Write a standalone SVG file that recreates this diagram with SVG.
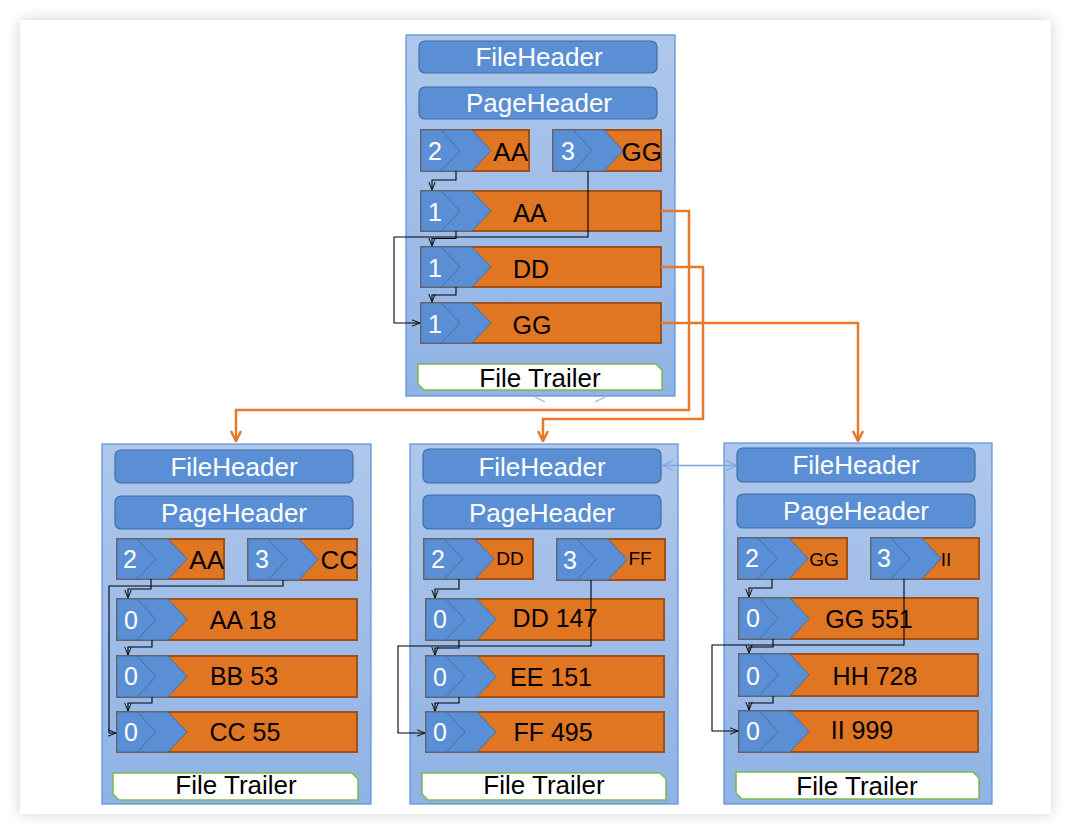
<svg xmlns="http://www.w3.org/2000/svg" width="1071" height="834" viewBox="0 0 1071 834">
<style>
text{font-family:"Liberation Sans",Arial,Helvetica,sans-serif}
.blk{fill:url(#bg);stroke:#5b8fd8;stroke-width:1.2}
.hdr{fill:#5b8fd5;stroke:#3f6ea6;stroke-width:1.2}
.hdrt{fill:#fff;font-size:26px;text-anchor:middle}
.ob{fill:#e07522;stroke:#9e501c;stroke-width:2}
.chev{fill:#5b8fd5;stroke:#41709f;stroke-width:1}
.chl{fill:none;stroke:#41709f;stroke-width:1}
.num{fill:#fff;font-size:25px;text-anchor:middle}
.lbl{fill:#000;font-size:25px;text-anchor:middle}
.lble{fill:#000;font-size:26px;text-anchor:end}
.slbl{fill:#000;font-size:19px;text-anchor:middle}
.ft{fill:#fff;stroke:#7db84e;stroke-width:1.5}
.ftt{fill:#000;font-size:26px;text-anchor:middle}
.c{fill:none;stroke:#000;stroke-width:1.1}
.o{fill:none;stroke:#e8782a;stroke-width:2.5}
</style>
<defs>
<linearGradient id="bg" x1="0" y1="0" x2="0" y2="1">
<stop offset="0" stop-color="#afc7eb"/>
<stop offset="1" stop-color="#8fb3e5"/>
</linearGradient>
<filter id="sh" x="-5%" y="-5%" width="110%" height="110%">
<feDropShadow dx="0" dy="0" stdDeviation="7" flood-color="#000" flood-opacity="0.18"/>
</filter>
<marker id="ab" viewBox="0 0 10 10" refX="10" refY="5" markerWidth="8" markerHeight="8" markerUnits="userSpaceOnUse" orient="auto">
<path d="M0,1 L10,5 L0,9" fill="none" stroke="#000" stroke-width="1.2"/>
</marker>
<marker id="ao" viewBox="0 0 12 12" refX="11" refY="6" markerWidth="12" markerHeight="12" markerUnits="userSpaceOnUse" orient="auto">
<path d="M1,1 L11,6 L1,11" fill="none" stroke="#e8782a" stroke-width="2.5"/>
</marker>
<marker id="abl" viewBox="0 0 12 12" refX="11" refY="6" markerWidth="12" markerHeight="12" markerUnits="userSpaceOnUse" orient="auto-start-reverse">
<path d="M1,1 L11,6 L1,11" fill="none" stroke="#7ea6e0" stroke-width="1.3"/>
</marker>
</defs>
<rect x="0" y="0" width="1071" height="834" fill="#fff"/>
<rect x="20" y="20" width="1031" height="794" fill="#fff" filter="url(#sh)"/>

<g id="top-file">
<rect class="blk" x="406" y="35" width="269" height="361"/>
<g id="t-fileheader"><rect class="hdr" x="419" y="41" width="238" height="32" rx="6"/><text class="hdrt" x="539" y="66">FileHeader</text></g>
<g id="t-pageheader"><rect class="hdr" x="419" y="87" width="238" height="32" rx="6"/><text class="hdrt" x="539" y="112">PageHeader</text></g>
<g id="t-idx1"><rect class="ob" x="421" y="130" width="108" height="41"/><polygon class="chev" points="421,130 472,130 491,150.5 472,171 421,171"/><polyline class="chl" points="441,130 460,150.5 441,171"/><text class="num" x="435" y="160">2</text><text class="lble" x="528" y="161">AA</text></g>
<g id="t-idx2"><rect class="ob" x="553" y="130" width="108" height="41"/><polygon class="chev" points="553,130 604,130 623,150.5 604,171 553,171"/><polyline class="chl" points="573,130 592,150.5 573,171"/><text class="num" x="568" y="160">3</text><text class="lble" x="662" y="161">GG</text></g>
<g id="t-rec-aa"><rect class="ob" x="421" y="191" width="240" height="40"/><polygon class="chev" points="421,191 472,191 491,211 472,231 421,231"/><polyline class="chl" points="441,191 460,211 441,231"/><text class="num" x="435" y="221">1</text><text class="lbl" x="530" y="222">AA</text></g>
<g id="t-rec-dd"><rect class="ob" x="421" y="247" width="240" height="40"/><polygon class="chev" points="421,247 472,247 491,267 472,287 421,287"/><polyline class="chl" points="441,247 460,267 441,287"/><text class="num" x="435" y="277">1</text><text class="lbl" x="531" y="278">DD</text></g>
<g id="t-rec-gg"><rect class="ob" x="421" y="303" width="240" height="40"/><polygon class="chev" points="421,303 472,303 491,323 472,343 421,343"/><polyline class="chl" points="441,303 460,323 441,343"/><text class="num" x="435" y="333">1</text><text class="lbl" x="532" y="334">GG</text></g>
<g id="t-trailer"><path class="ft" d="M418,364 H656 L662,370 V390 H424 L418,384 Z"/><text class="ftt" x="540" y="387">File Trailer</text></g>
</g>

<g id="left-file">
<rect class="blk" x="102" y="444" width="269" height="360"/>
<g id="l-fileheader"><rect class="hdr" x="115" y="450" width="238" height="33" rx="6"/><text class="hdrt" x="234" y="476">FileHeader</text></g>
<g id="l-pageheader"><rect class="hdr" x="115" y="496" width="238" height="33" rx="6"/><text class="hdrt" x="234" y="522">PageHeader</text></g>
<g id="l-idx1"><rect class="ob" x="117" y="539" width="107" height="40"/><polygon class="chev" points="117,539 168,539 187,559 168,579 117,579"/><polyline class="chl" points="137,539 156,559 137,579"/><text class="num" x="130" y="568">2</text><text class="lble" x="224" y="569">AA</text></g>
<g id="l-idx2"><rect class="ob" x="248" y="539" width="109" height="41"/><polygon class="chev" points="248,539 299,539 318,559.5 299,580 248,580"/><polyline class="chl" points="268,539 287,559.5 268,580"/><text class="num" x="262" y="568">3</text><text class="lble" x="358" y="569">CC</text></g>
<g id="l-rec-aa"><rect class="ob" x="117" y="599" width="240" height="41"/><polygon class="chev" points="117,599 168,599 187,619.5 168,640 117,640"/><polyline class="chl" points="137,599 156,619.5 137,640"/><text class="num" x="131" y="629">0</text><text class="lbl" x="243" y="629">AA 18</text></g>
<g id="l-rec-bb"><rect class="ob" x="117" y="656" width="240" height="41"/><polygon class="chev" points="117,656 168,656 187,676.5 168,697 117,697"/><polyline class="chl" points="137,656 156,676.5 137,697"/><text class="num" x="131" y="685">0</text><text class="lbl" x="244" y="685">BB 53</text></g>
<g id="l-rec-cc"><rect class="ob" x="117" y="712" width="240" height="40"/><polygon class="chev" points="117,712 168,712 187,732 168,752 117,752"/><polyline class="chl" points="137,712 156,732 137,752"/><text class="num" x="131" y="741">0</text><text class="lbl" x="245" y="741">CC 55</text></g>
<g id="l-trailer"><path class="ft" d="M113,773 H352 L358,779 V800 H119 L113,794 Z"/><text class="ftt" x="236" y="794">File Trailer</text></g>
</g>

<g id="mid-file">
<rect class="blk" x="410" y="444" width="268" height="360"/>
<g id="m-fileheader"><rect class="hdr" x="423" y="449" width="238" height="34" rx="6"/><text class="hdrt" x="542" y="476">FileHeader</text></g>
<g id="m-pageheader"><rect class="hdr" x="423" y="495" width="238" height="34" rx="6"/><text class="hdrt" x="542" y="522">PageHeader</text></g>
<g id="m-idx1"><rect class="ob" x="424" y="539" width="109" height="40"/><polygon class="chev" points="424,539 475,539 494,559 475,579 424,579"/><polyline class="chl" points="444,539 463,559 444,579"/><text class="num" x="438" y="568">2</text><text class="slbl" x="510" y="565">DD</text></g>
<g id="m-idx2"><rect class="ob" x="557" y="539" width="108" height="41"/><polygon class="chev" points="557,539 608,539 627,559.5 608,580 557,580"/><polyline class="chl" points="577,539 596,559.5 577,580"/><text class="num" x="570" y="569">3</text><text class="slbl" x="640" y="565">FF</text></g>
<g id="m-rec-dd"><rect class="ob" x="426" y="599" width="238" height="41"/><polygon class="chev" points="426,599 477,599 496,619.5 477,640 426,640"/><polyline class="chl" points="446,599 465,619.5 446,640"/><text class="num" x="440" y="628">0</text><text class="lbl" x="555" y="627">DD 147</text></g>
<g id="m-rec-ee"><rect class="ob" x="426" y="656" width="238" height="41"/><polygon class="chev" points="426,656 477,656 496,676.5 477,697 426,697"/><polyline class="chl" points="446,656 465,676.5 446,697"/><text class="num" x="440" y="686">0</text><text class="lbl" x="551" y="686">EE 151</text></g>
<g id="m-rec-ff"><rect class="ob" x="426" y="712" width="238" height="40"/><polygon class="chev" points="426,712 477,712 496,732 477,752 426,752"/><polyline class="chl" points="446,712 465,732 446,752"/><text class="num" x="440" y="741">0</text><text class="lbl" x="553" y="741">FF 495</text></g>
<g id="m-trailer"><path class="ft" d="M422,773 H660 L666,779 V800 H428 L422,794 Z"/><text class="ftt" x="544" y="794">File Trailer</text></g>
</g>

<g id="right-file">
<rect class="blk" x="724" y="443" width="268" height="361"/>
<g id="r-fileheader"><rect class="hdr" x="737" y="448" width="238" height="34" rx="6"/><text class="hdrt" x="856" y="474">FileHeader</text></g>
<g id="r-pageheader"><rect class="hdr" x="737" y="494" width="238" height="34" rx="6"/><text class="hdrt" x="856" y="520">PageHeader</text></g>
<g id="r-idx1"><rect class="ob" x="738" y="538" width="109" height="41"/><polygon class="chev" points="738,538 789,538 808,558.5 789,579 738,579"/><polyline class="chl" points="758,538 777,558.5 758,579"/><text class="num" x="752" y="567">2</text><text class="slbl" x="824" y="566">GG</text></g>
<g id="r-idx2"><rect class="ob" x="871" y="538" width="108" height="41"/><polygon class="chev" points="871,538 922,538 941,558.5 922,579 871,579"/><polyline class="chl" points="891,538 910,558.5 891,579"/><text class="num" x="884" y="567">3</text><text class="slbl" x="946" y="566">II</text></g>
<g id="r-rec-gg"><rect class="ob" x="739" y="598" width="239" height="41"/><polygon class="chev" points="739,598 790,598 809,618.5 790,639 739,639"/><polyline class="chl" points="759,598 778,618.5 759,639"/><text class="num" x="753" y="627">0</text><text class="lbl" x="869" y="628">GG 551</text></g>
<g id="r-rec-hh"><rect class="ob" x="739" y="654" width="239" height="42"/><polygon class="chev" points="739,654 790,654 809,675 790,696 739,696"/><polyline class="chl" points="759,654 778,675 759,696"/><text class="num" x="753" y="685">0</text><text class="lbl" x="875" y="685">HH 728</text></g>
<g id="r-rec-ii"><rect class="ob" x="739" y="711" width="239" height="41"/><polygon class="chev" points="739,711 790,711 809,731.5 790,752 739,752"/><polyline class="chl" points="759,711 778,731.5 759,752"/><text class="num" x="753" y="740">0</text><text class="lbl" x="862" y="739">II 999</text></g>
<g id="r-trailer"><path class="ft" d="M736,772 H973 L979,778 V799 H742 L736,793 Z"/><text class="ftt" x="857" y="795">File Trailer</text></g>
</g>

<g id="connectors">
<path class="c" marker-end="url(#ab)" d="M456,171 V180 H432 V190"/>
<path class="c" marker-end="url(#ab)" d="M588,171 V237 H394 V323 H420"/>
<path class="c" marker-end="url(#ab)" d="M456,231 V238.5 H432 V246"/>
<path class="c" marker-end="url(#ab)" d="M456,287 V295 H432 V302"/>
<path class="c" marker-end="url(#ab)" d="M151,579 V589 H128 V598"/>
<path class="c" marker-end="url(#ab)" d="M283,580 V586 H109 V733 H116"/>
<path class="c" marker-end="url(#ab)" d="M152,640 V647 H128 V655"/>
<path class="c" marker-end="url(#ab)" d="M152,697 V703 H128 V711"/>
<path class="c" marker-end="url(#ab)" d="M459,579 V589 H435 V598"/>
<path class="c" marker-end="url(#ab)" d="M591,580 V646 H398 V733 H425"/>
<path class="c" marker-end="url(#ab)" d="M459,640 V648 H435 V655"/>
<path class="c" marker-end="url(#ab)" d="M459,697 V703 H435 V711"/>
<path class="c" marker-end="url(#ab)" d="M772,579 V588 H749 V597"/>
<path class="c" marker-end="url(#ab)" d="M904,579 V645 H712 V731 H738"/>
<path class="c" marker-end="url(#ab)" d="M773,639 V647 H749 V653"/>
<path class="c" marker-end="url(#ab)" d="M773,696 V703 H749 V710"/>
<path class="o" marker-end="url(#ao)" d="M661,211 H689 V410 H236 V441"/>
<path class="o" marker-end="url(#ao)" d="M661,267 H703 V419 H543 V441"/>
<path class="o" marker-end="url(#ao)" d="M661,323 H858 V441"/>
<path fill="none" stroke="#7ea6e0" stroke-width="1.3" marker-start="url(#abl)" marker-end="url(#abl)" d="M663,465.5 H736"/>
<path fill="none" stroke="#8fb3e5" stroke-width="1.2" d="M535,397 L545,402 M595,402 L605,397"/>
</g>
</svg>
